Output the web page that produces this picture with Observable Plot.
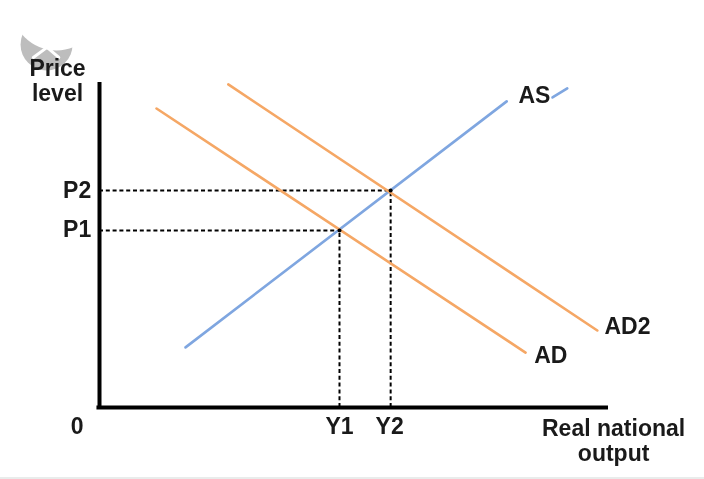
<!DOCTYPE html>
<html><head><meta charset="utf-8">
<script src="https://cdn.jsdelivr.net/npm/d3@7"></script>
<script src="https://cdn.jsdelivr.net/npm/@observablehq/plot@0.6"></script>
<style>
html,body{margin:0;padding:0;background:#e9eceb;overflow:hidden}
svg{display:block;background:#fff}
#c svg{filter:blur(0.55px)}
</style></head><body><div id="c"></div>
<script>
// Values in chart units: output 0-100 across the x axis, price level 0-100 up the y axis
const asSeg1X = [16.9, 80];
const asSeg1Y = [18.5, 94.2];
const asSeg2X = [89, 91.9];
const asSeg2Y = [95.4, 98.2];
const adX = [11.2, 83.7];
const adY = [92, 16.9];
const ad2X = [25.3, 97.8];
const ad2Y = [99.4, 23.7];
const y1Val = 47.15, y2Val = 57.2, p1Val = 54.5, p2Val = 66.8;
const badgeChevronX = [-13, -10.3, -8];
const badgeChevronY = [107.7, 110.8, 107.7];

const orange = "#f5a765", blue = "#7fa6e0";
const seg = (xs, ys) => xs.map((x, i) => ({x, y: ys[i]}));
const labelStyle = {fontFamily: "Liberation Sans, Arial, sans-serif", fontWeight: "bold", fontSize: 23, fill: "#1a1a1a", stroke: "none"};

const xTicks = [{x: y1Val, t: "Y1"}, {x: y2Val - 0.2, t: "Y2"}, {x: -4.4, t: "0"}];
const yTicks = [{y: p1Val + 0.3, t: "P1"}, {y: p2Val, t: "P2"}];
const curveLabels = [
  {x: 82.3, y: 96, t: "AS"},
  {x: 99.2, y: 24.9, t: "AD2"},
  {x: 85.4, y: 16, t: "AD"}
];
const axisTitles = [
  {x: -8.25, y: 100.6, t: "Price\nlevel"},
  {x: 101, y: -10.2, t: "Real national\noutput"}
];

const chart = Plot.plot({
  width: 704, height: 477,
  marginLeft: 99, marginRight: 96, marginTop: 82, marginBottom: 70,
  x: {domain: [0, 100], axis: null},
  y: {domain: [0, 100], axis: null},
  marks: [
    // close-badge remnant in the top-left corner
    Plot.dot([{x: -10.4, y: 111.7}], {x: "x", y: "y", r: 26, fill: "#bdbdbd", stroke: "none"}),
    Plot.dot([{x: -8.45, y: 123.7}], {x: "x", y: "y", r: 45, fill: "#fff", stroke: "none"}),
    Plot.line(seg(badgeChevronX, badgeChevronY), {x: "x", y: "y", stroke: "#fff", strokeWidth: 3}),
    // dashed guides
    Plot.ruleY([p1Val], {x1: 0, x2: y1Val, stroke: "#000", strokeWidth: 2, strokeDasharray: "4 2.8"}),
    Plot.ruleY([p2Val], {x1: 0, x2: y2Val, stroke: "#000", strokeWidth: 2, strokeDasharray: "4 2.8"}),
    Plot.ruleX([y1Val], {y1: 0, y2: p1Val, stroke: "#000", strokeWidth: 2, strokeDasharray: "4 2.8"}),
    Plot.ruleX([y2Val], {y1: 0, y2: p2Val, stroke: "#000", strokeWidth: 2, strokeDasharray: "4 2.8"}),
    // curves
    Plot.line(seg(asSeg1X, asSeg1Y), {x: "x", y: "y", stroke: blue, strokeWidth: 2.6}),
    Plot.line(seg(asSeg2X, asSeg2Y), {x: "x", y: "y", stroke: blue, strokeWidth: 2.6}),
    Plot.line(seg(adX, adY), {x: "x", y: "y", stroke: orange, strokeWidth: 2.6}),
    Plot.line(seg(ad2X, ad2Y), {x: "x", y: "y", stroke: orange, strokeWidth: 2.6}),
    // intersections
    Plot.dot([{x: y1Val, y: p1Val}, {x: y2Val, y: p2Val}], {x: "x", y: "y", r: 2, fill: "#000"}),
    // axes
    Plot.ruleX([0], {y1: 0, y2: 100, stroke: "#000", strokeWidth: 4}),
    Plot.ruleY([0], {x1: -0.5, x2: 100, stroke: "#000", strokeWidth: 4}),
    // labels
    Plot.text(xTicks, {x: "x", y: () => -6, text: "t", ...labelStyle}),
    Plot.text(yTicks, {x: () => -4.4, y: "y", text: "t", ...labelStyle}),
    Plot.text(curveLabels, {x: "x", y: "y", text: "t", textAnchor: "start", ...labelStyle}),
    Plot.text(axisTitles, {x: "x", y: "y", text: "t", lineHeight: 1.09, ...labelStyle})
  ]
});
document.getElementById("c").append(chart);
</script></body></html>
